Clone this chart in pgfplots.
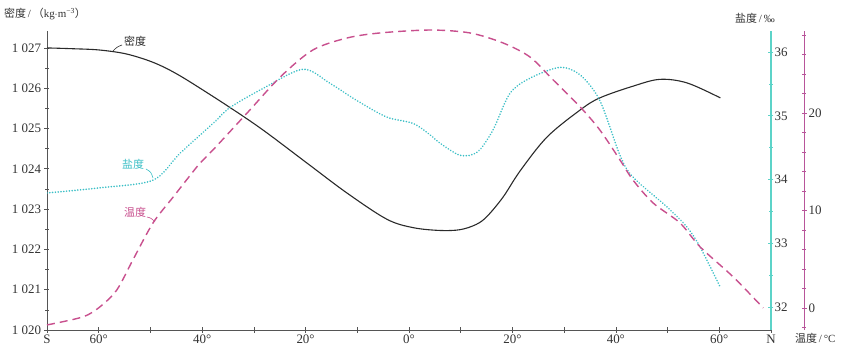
\documentclass[border=0pt]{standalone}
\usepackage{pgfplots}
\pgfplotsset{compat=1.18}
\usepackage{fontspec}
\setmainfont{Liberation Serif}
\newfontfamily\cjk{Noto Sans CJK SC}
\definecolor{dens}{HTML}{2A2A2A}
\definecolor{sal}{HTML}{3CBFC6}
\definecolor{tmp}{HTML}{C8508E}
\definecolor{axg}{HTML}{555555}
\definecolor{salax}{HTML}{5CD3C8}
\definecolor{tmpax}{HTML}{B8559A}
\definecolor{txt}{HTML}{333333}

\pgfplotstableread{
lat dens
-70 1027.00
-65 1026.98
-60 1026.95
-55 1026.86
-50.7 1026.70
-47.5 1026.53
-44.3 1026.31
-40.4 1026.00
-34.6 1025.52
-28.2 1024.96
-19.7 1024.14
-12.0 1023.40
-4.3 1022.75
0.8 1022.54
6.0 1022.47
9.9 1022.49
13.0 1022.62
15.1 1022.82
18.2 1023.30
21.5 1023.95
26.7 1024.79
33.1 1025.46
36.9 1025.76
43.3 1026.05
48.5 1026.22
53.8 1026.13
60.2 1025.76
}\densdata

\pgfplotstableread{
lat sal
-70.0 33.79
-59.8 33.87
-49.5 33.99
-44.3 34.41
-37.9 34.88
-34.6 35.13
-28.2 35.43
-20.5 35.73
-15.3 35.51
-10.1 35.24
-4.3 34.98
0.8 34.88
4.1 34.70
6.0 34.57
9.9 34.38
13.2 34.43
16.2 34.77
19.5 35.35
23.4 35.59
29.2 35.76
33.1 35.64
36.9 35.24
40.8 34.38
43.3 34.04
49.9 33.57
53.8 33.25
56.3 32.94
60.2 32.31
}\saldata

\pgfplotstableread{
lat temp
-70.0 -1.74
-63.1 -0.92
-59.8 0.10
-56.5 1.85
-53.4 4.92
-49.5 8.72
-45.6 11.38
-40.4 14.87
-37.9 16.21
-31.3 20.00
-24.9 23.69
-18.6 26.46
-12.0 27.69
-5.6 28.21
4.1 28.51
11.8 28.21
18.2 27.18
23.4 25.74
27.9 23.38
33.1 20.62
36.9 18.26
40.8 15.18
43.3 13.13
47.2 10.77
52.4 8.72
56.3 6.26
62.7 3.18
68.5 0.00
}\tempdata

\begin{document}
\begin{tikzpicture}
\useasboundingbox (-47bp,-17bp) rectangle (811bp,330bp);
\pgfplotsset{every axis/.append style={width=724bp,height=299bp,scale only axis,
  at={(0,0)},anchor=south west,xmin=-70,xmax=70,
  font=\fontsize{13}{13}\selectfont,
  /pgf/number format/assume math mode=true,
  tick align=inside, major tick length=5bp, minor tick length=3.5bp}}
% density axis
\begin{axis}[
  ymin=1020, ymax=1027.42,
  axis x line=bottom, axis y line=left,
  axis line style={-, axg, line width=0.8bp},
  tick style={axg, line width=0.7bp},
  xtick={-70,-60,...,70},
  xticklabels={S,60°,,40°,,20°,,0°,,20°,,40°,,60°,N},
  ytick={1020,1021,...,1027},
  yticklabels={1~020,1~021,1~022,1~023,1~024,1~025,1~026,1~027},
  minor ytick={1020.5,1021.5,...,1026.5},
  ticklabel style={text=txt},
  xticklabel style={yshift=1bp},
]
\addplot[dens, line width=1.1bp, smooth, tension=0.55] table[x=lat,y=dens] {\densdata};
\end{axis}
% salinity axis
\begin{axis}[
  ymin=31.64, ymax=36.33,
  hide x axis, axis y line=right,
  axis line style={-, salax, line width=1.1bp},
  tick style={salax, line width=0.8bp},
  ytick={32,33,...,36},
  minor ytick={32.5,33.5,...,35.5},
  yticklabel style={inner xsep=1bp, text=txt},
]
\addplot[sal, line width=1.8bp, line cap=round, dash pattern=on 0.01bp off 2.8bp, smooth, tension=0.5] table[x=lat,y=sal] {\saldata};
\end{axis}
% temperature plot
\begin{axis}[
  ymin=-2.26, ymax=28.41, hide axis, clip=false,
]
\addplot[tmp, line width=1.4bp, dash pattern=on 8bp off 5bp, smooth, tension=0.5] table[x=lat,y=temp] {\tempdata};
\end{axis}
% temperature axis line
\begin{axis}[
  at={(33bp,0)},
  ymin=-2.26, ymax=28.41,
  hide x axis, axis y line=right,
  axis line style={-, tmpax, line width=1bp},
  tick style={tmpax, line width=0.8bp},
  ytick={0,10,20},
  minor ytick={-2,2,4,6,8,12,14,16,18,22,24,26,28},
  yticklabel style={inner xsep=2bp, text=txt},
]
\end{axis}
% texts
\node[anchor=west, text=txt, inner sep=0pt, font=\fontsize{11}{11}\selectfont] at (-43bp,316bp) {{\cjk 密度}\,/\,{\cjk （}kg$\cdot$m\textsuperscript{−3}{\cjk ）}};
\node[anchor=west, text=txt, inner sep=0pt, font=\fontsize{11}{11}\selectfont] at (688bp,312bp) {{\cjk 盐度}\,/\,‰};
\node[anchor=west, text=txt, inner sep=0pt, font=\fontsize{11}{11}\selectfont] at (748bp,-8bp) {{\cjk 温度}\,/\,°C};
% curve labels
\node[text=dens, inner sep=0pt, font=\fontsize{11}{11}\selectfont] at (88bp,289bp) {\cjk 密度};
\draw[dens, line width=0.6bp] (66bp,279bp) .. controls (70bp,283bp) .. (75bp,285bp);
\node[text=sal, inner sep=0pt, font=\fontsize{11}{11}\selectfont] at (86bp,166bp) {\cjk 盐度};
\draw[sal, line width=0.6bp] (99bp,161bp) .. controls (104bp,158bp) .. (106bp,152bp);
\node[text=tmp, inner sep=0pt, font=\fontsize{11}{11}\selectfont] at (88bp,118bp) {\cjk 温度};
\draw[tmp, line width=0.6bp] (100bp,113bp) .. controls (104bp,112bp) .. (108bp,108bp);
\end{tikzpicture}
\end{document}
